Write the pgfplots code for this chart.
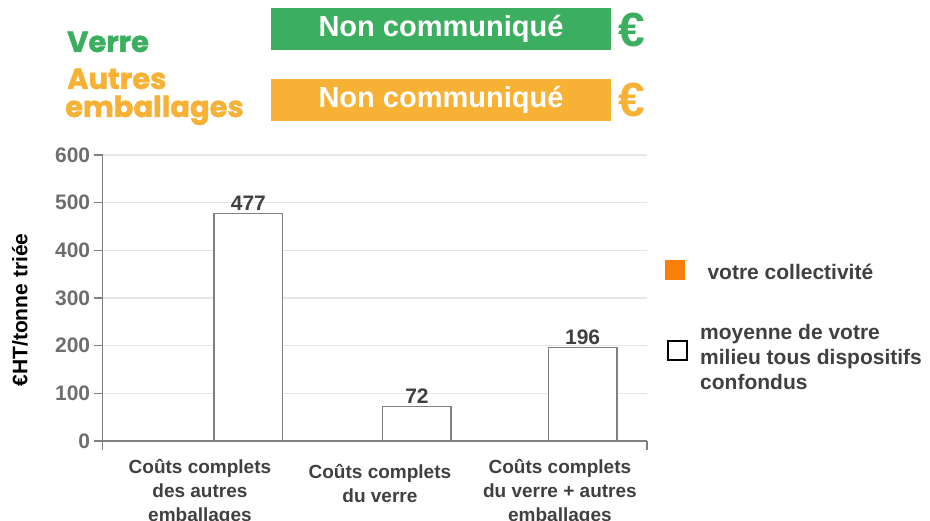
\documentclass[border=0pt]{standalone}
\usepackage{pgfplots}
\pgfplotsset{compat=1.18}
\usepackage{fontspec}
\setmainfont{Liberation Sans}
\newfontfamily\pop{Poppins}[BoldFeatures={FakeBold=1.6}]
\definecolor{vgreen}{RGB}{60,174,95}
\definecolor{vorange}{RGB}{247,177,52}
\definecolor{legor}{RGB}{247,127,10}
\definecolor{axgray}{RGB}{128,128,128}
\definecolor{gridgray}{RGB}{230,230,230}
\definecolor{ticktext}{RGB}{110,110,110}
\definecolor{darktext}{RGB}{64,64,64}
\begin{document}
\begin{tikzpicture}[x=1pt,y=1pt]
\path[use as bounding box] (0,0) rectangle (930,521);
% header
\fill[vgreen] (271,471) rectangle (611,513);
\node[text=white,font=\fontsize{29}{34}\selectfont\bfseries] at (441,492) {Non communiqué};
\fill[vorange] (271,400) rectangle (611,442);
\node[text=white,font=\fontsize{29}{34}\selectfont\bfseries] at (441,421) {Non communiqué};
\begin{scope}
\clip (612,0) rectangle (648,521);
\node[text=vgreen,font=\fontsize{48}{52}\selectfont\bfseries,anchor=west,inner sep=0pt] at (618,491) {€};
\node[text=vorange,font=\fontsize{48}{52}\selectfont\bfseries,anchor=west,inner sep=0pt] at (618,421) {€};
\end{scope}
\node[text=vgreen,font=\pop\fontsize{29}{30}\selectfont\bfseries,anchor=base west,inner sep=0pt] at (67,469) {Verre};
\node[text=vorange,font=\pop\fontsize{29}{30}\selectfont\bfseries,anchor=base west,inner sep=0pt] at (67,432) {Autres};
\node[text=vorange,font=\pop\fontsize{29}{30}\selectfont\bfseries,anchor=base west,inner sep=0pt] at (65,404) {emballages};
% y label
\node[rotate=90,font=\fontsize{21}{24}\selectfont\bfseries] at (20,211) {€HT/tonne triée};
\begin{axis}[
  at={(102.7pt,80pt)}, anchor=south west,
  scale only axis, width=544.3pt, height=286pt,
  xmin=0, xmax=3, ymin=0, ymax=600,
  axis lines*=left,
  axis line style={axgray, line width=1.5pt},
  /pgf/number format/assume math mode=true,
  ytick={0,100,...,600},
  ymajorgrids, grid style={gridgray, line width=1.2pt},
  tick align=outside, major tick length=9pt,
  tick style={axgray, line width=1.5pt},
  yticklabel style={font=\fontsize{21}{24}\selectfont\bfseries, text=ticktext},
  xtick={0,3}, xticklabels={{},{}},
  extra x ticks={0.536,1.528,2.520},
  extra x tick labels={{Coûts complets\\des autres\\emballages},{\rule{0pt}{19pt}Coûts complets\\du verre},{Coûts complets\\du verre + autres\\emballages}},
  extra x tick style={major tick length=0pt, xticklabel style={anchor=north, yshift=-15pt, align=center, font=\fontsize{19}{24}\selectfont\bfseries, text=darktext}},
  ybar, bar width=68.5pt,
  nodes near coords,
  every node near coord/.append style={font=\fontsize{21}{24}\selectfont\bfseries, text=darktext, inner sep=2pt},
]
\addplot[bar shift=0pt, draw=axgray, fill=white, line width=1.5pt] coordinates {(0.803,477) (1.732,72) (2.645,196)};
\end{axis}
% legend
\fill[legor] (665,241) rectangle (685,261);
\node[anchor=west,font=\fontsize{21}{24}\selectfont\bfseries,text=darktext] at (704,249) {votre collectivité};
\draw[black,line width=1.5pt] (668,161) rectangle (687,180);
\node[anchor=north west,align=left,font=\fontsize{21}{25}\selectfont\bfseries,text=darktext,inner sep=0pt] at (700,197) {moyenne de votre\\milieu tous dispositifs\\confondus};
\end{tikzpicture}
\end{document}
